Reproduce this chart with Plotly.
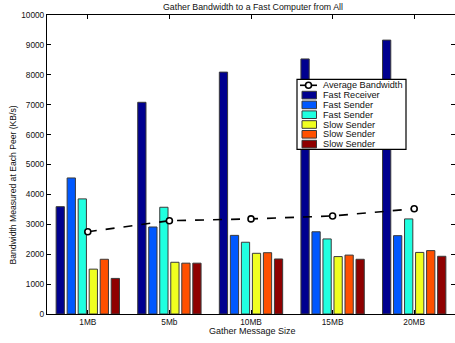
import plotly.graph_objects as go

categories = ["1MB", "5Mb", "10MB", "15MB", "20MB"]
series_names = ["Fast Receiver", "Fast Sender", "Fast Sender",
                "Slow Sender", "Slow Sender", "Slow Sender"]
series_colors = ["#00008F", "#0058FF", "#20FFE0", "#F0FF20", "#FF5000", "#8F0000"]
fast_receiver = [3590, 7080, 8090, 8530, 9160]
fast_sender_1 = [4550, 2910, 2630, 2750, 2620]
fast_sender_2 = [3850, 3570, 2400, 2510, 3180]
slow_sender_1 = [1500, 1730, 2030, 1920, 2060]
slow_sender_2 = [1830, 1700, 2050, 1970, 2120]
slow_sender_3 = [1190, 1700, 1840, 1830, 1930]
average_bw = [2750, 3120, 3180, 3280, 3520]
avg_name = "Average Bandwidth"
y_ticks = list(range(0, 10001, 1000))

series_values = [fast_receiver, fast_sender_1, fast_sender_2,
                 slow_sender_1, slow_sender_2, slow_sender_3]

W, H = 455, 343
L, R, T, B = 47, 0, 15, 29
PW, PH = W - L - R, H - T - B

def px(x):
    return (x - L) / PW

def py(y):
    return (H - B - y) / PH

FONT = "Liberation Sans, Arial, Helvetica, sans-serif"
xs = list(range(1, len(categories) + 1))

fig = go.Figure()
for name, vals, col in zip(series_names, series_values, series_colors):
    fig.add_trace(go.Bar(x=xs, y=vals, name=name, marker=dict(color=col, line=dict(color="#3a3a3a", width=1)),
                         showlegend=False))

fig.add_trace(go.Scatter(x=xs, y=average_bw, name=avg_name, mode="lines+markers",
                         line=dict(color="black", width=1.6, dash="dash"),
                         marker=dict(symbol="circle", size=6, color="white",
                                     line=dict(color="black", width=1.6)),
                         showlegend=False))

# right-side inside ticks (MATLAB box style)
fig.add_trace(go.Scatter(x=[None], y=[None], yaxis="y2", showlegend=False, hoverinfo="skip"))

shapes = []
annotations = []
# legend box
bx0, bx1, by0, by1 = 297, 406, 79.3, 149.3
shapes.append(dict(type="rect", xref="paper", yref="paper", x0=px(bx0), x1=px(bx1),
                   y0=py(by1), y1=py(by0), line=dict(color="black", width=1.2), fillcolor="white", layer="above"))
legend_labels = [avg_name] + series_names
row0, dy = 85.3, 9.8
for i, lab in enumerate(legend_labels):
    yc = row0 + i * dy
    if i == 0:
        shapes.append(dict(type="line", xref="paper", yref="paper", x0=px(300), x1=px(317),
                           y0=py(yc), y1=py(yc), line=dict(color="black", width=1.6), layer="above"))
        shapes.append(dict(type="circle", xref="paper", yref="paper", x0=px(305.5), x1=px(311.5),
                           y0=py(yc + 3), y1=py(yc - 3), line=dict(color="black", width=1.6),
                           fillcolor="white", layer="above"))
    else:
        shapes.append(dict(type="rect", xref="paper", yref="paper", x0=px(302), x1=px(316.5),
                           y0=py(yc + 3.8), y1=py(yc - 3.8), line=dict(color="#3a3a3a", width=1),
                           fillcolor=series_colors[i - 1], layer="above"))
    annotations.append(dict(xref="paper", yref="paper", x=px(321), y=py(yc), text=lab, showarrow=False,
                            xanchor="left", yanchor="middle", font=dict(family=FONT, size=9.2, color="#111")))

annotations.append(dict(xref="paper", yref="paper", x=px(252), y=py(330.5), text="Gather Message Size",
                        showarrow=False, xanchor="center", yanchor="middle",
                        font=dict(family=FONT, size=9, color="#111")))
annotations.append(dict(xref="paper", yref="paper", x=px(12.5), y=py(185), text="Bandwidth Measured at Each Peer (KB/s)",
                        showarrow=False, textangle=-90, xanchor="center", yanchor="middle",
                        font=dict(family=FONT, size=8.6, color="#111")))
annotations.append(dict(xref="paper", yref="paper", x=px(253), y=py(7.5), text="Gather Bandwidth to a Fast Computer from All",
                        showarrow=False, xanchor="center", yanchor="middle",
                        font=dict(family=FONT, size=8.8, color="#111")))

fig.update_layout(
    width=W, height=H, autosize=False,
    margin=dict(l=L, r=R, t=T, b=B, pad=0),
    paper_bgcolor="white", plot_bgcolor="white",
    barmode="group", bargap=0.19, bargroupgap=0.25,
    showlegend=False,
    font=dict(family=FONT, size=8, color="#111"),
    xaxis=dict(range=[0.5, len(categories) + 0.5], tickvals=xs, ticktext=categories,
               showline=True, linecolor="black", linewidth=1.2, mirror="ticks",
               ticks="inside", ticklen=4, tickcolor="black", showgrid=False, zeroline=False,
               tickfont=dict(family=FONT, size=8.3, color="#111")),
    yaxis=dict(range=[0, 10000], tickvals=y_ticks, tickformat="d",
               showline=True, linecolor="black", linewidth=1.2,
               ticks="inside", ticklen=4, tickcolor="black", showgrid=False, zeroline=False,
               tickfont=dict(family=FONT, size=8.3, color="#111")),
    yaxis2=dict(range=[0, 10000], tickvals=y_ticks, overlaying="y", side="right",
                showticklabels=False, ticks="inside", ticklen=4, tickcolor="black",
                showline=False, showgrid=False, zeroline=False),
    shapes=shapes, annotations=annotations,
)

fig.write_html("out.html")
